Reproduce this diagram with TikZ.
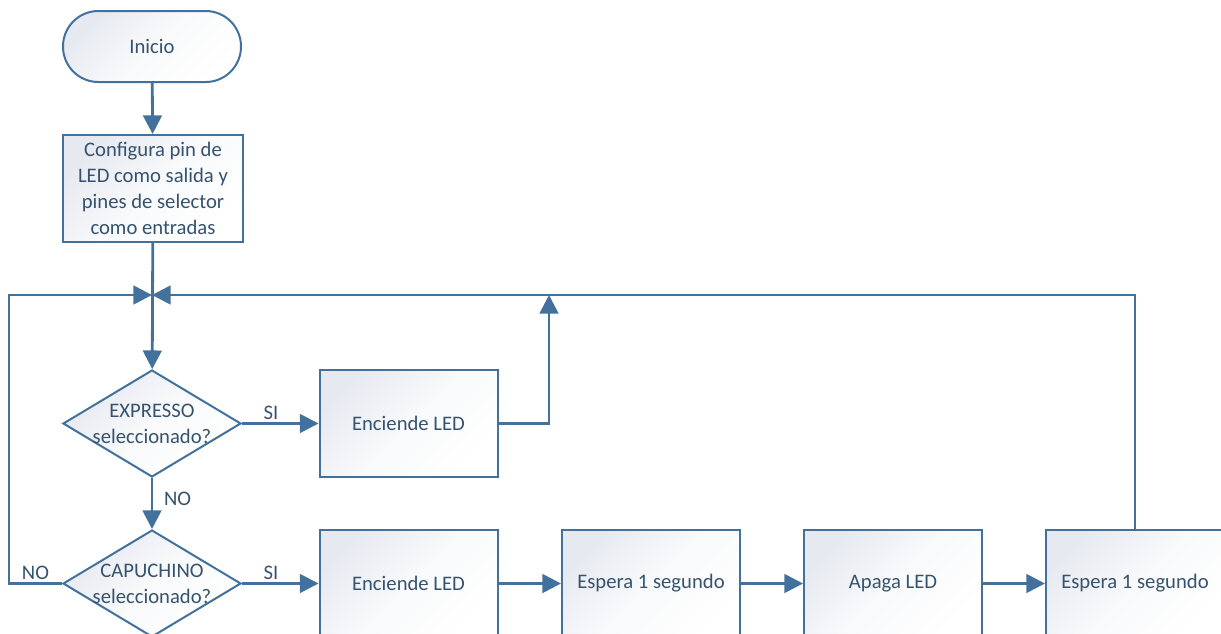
\documentclass[tikz,border=0pt]{standalone}
\usepackage{fontspec}
\setmainfont{Carlito}
\usetikzlibrary{shapes.geometric,arrows.meta}
\definecolor{ln}{HTML}{41719C}
\definecolor{tx}{HTML}{35536F}
\definecolor{fl}{HTML}{E6E9F0}
\begin{document}
\begin{tikzpicture}[x=0.75pt,y=-0.75pt,
  txt/.style={text=tx,font=\fontsize{15.5}{19.5}\selectfont},
  shd/.style={top color=fl,bottom color=white,middle color=white!75!fl,shading angle=45},
  box/.style={txt,draw=ln,line width=1.5pt,shd,
    minimum width=133.5pt,minimum height=80.25pt,inner sep=0pt,align=center},
  term/.style={box,rounded corners=26.5pt,minimum height=53.25pt},
  dia/.style={diamond,draw=ln,line width=1.5pt,shd,
    minimum width=133.5pt,minimum height=80.25pt,inner sep=0pt},
  arr/.style={draw=ln,line width=2.1pt,-{Triangle[length=14pt,width=14pt]}},
  lbl/.style={txt,inner sep=2pt}]
\useasboundingbox (0,0) rectangle (1221,633);
\clip (0,0) rectangle (1221,633);
\coordinate (j) at (152,295);
\coordinate (up) at (549,295);
\coordinate (lc) at (9,583.5);
\node[term] (ini) at (152,46.5) {Inicio};
\node[box,minimum width=135pt] (cfg) at (153,188.5) {Configura pin de\\LED como salida y\\pines de selector\\como entradas};
\node[dia] (d1) at (152,423.5) {};
\node[txt,align=center] (t1) at (152,423.5) {EXPRESSO\\seleccionado?};
\node[box] (e1) at (408.5,423.5) {Enciende LED};
\node[dia] (d2) at (152,583.5) {};
\node[txt,align=center] (t2) at (152,583.5) {CAPUCHINO\\seleccionado?};
\node[box] (e2) at (408.5,583.5) {Enciende LED};
\node[box] (w1) at (651,583.5) {Espera 1 segundo};
\node[box] (off) at (893,583.5) {Apaga LED};
\node[box] (w2) at (1135,583.5) {Espera 1 segundo};
\draw[arr] (ini) -- (cfg);
\draw[arr] (cfg) -- (d1);
\draw[arr] (d1) -- node[lbl,above,pos=0.38] {SI} (e1);
\draw[arr] (e1.east) -| (up);
\draw[arr] (d1) -- node[lbl,right,xshift=6pt,pos=0.4] {NO} (d2);
\draw[arr] (d2) -- node[lbl,above,pos=0.38] {SI} (e2);
\draw[arr] (e2) -- (w1);
\draw[arr] (w1) -- (off);
\draw[arr] (off) -- (w2);
\draw[arr] (w2.north) |- (j);
\draw[arr] (d2.west) -- node[lbl,above] {NO} (lc) |- (j);
\end{tikzpicture}
\end{document}
